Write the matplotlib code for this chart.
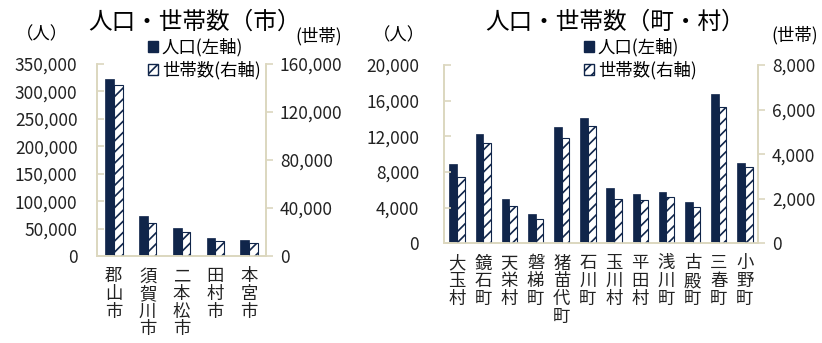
import numpy as np
import matplotlib.pyplot as plt
from matplotlib.patches import Patch
from matplotlib.ticker import FuncFormatter

plt.rcParams['font.family'] = ['Noto Sans CJK JP', 'DejaVu Sans']
plt.rcParams['hatch.linewidth'] = 1.2

# 市
city_names = ["郡山市", "須賀川市", "二本松市", "田村市", "本宮市"]
city_pop = [323000, 72900, 51600, 33400, 29700]
city_hh = [142200, 27200, 19700, 12200, 10600]

# 町・村
town_names = ["大玉村", "鏡石町", "天栄村", "磐梯町", "猪苗代町", "石川町",
              "玉川村", "平田村", "浅川町", "古殿町", "三春町", "小野町"]
town_pop = [8900, 12260, 5000, 3250, 13050, 14090,
            6170, 5560, 5790, 4600, 16710, 9040]
town_hh = [2990, 4490, 1670, 1090, 4710, 5260,
           1970, 1930, 2060, 1610, 6100, 3410]

NAVY = '#10254a'
AXIS_COL = '#dcd7bf'
FS = 12.5

comma = FuncFormatter(lambda v, p: f"{int(v):,}")


def draw_panel(fig, rect, names, pop, hh, lmax, lstep, rmax, rstep, width, lpad):
    ax = fig.add_axes(rect)
    ax2 = ax.twinx()
    x = np.arange(len(names))
    ax.bar(x - width / 2, pop, width, color=NAVY, edgecolor=NAVY, linewidth=0.5)
    ax2.bar(x + width / 2, hh, width, color='white', edgecolor=NAVY,
            hatch='///', linewidth=0.8)
    ax.set_xlim(-0.5, len(names) - 0.5)
    ax.set_ylim(0, lmax)
    ax2.set_ylim(0, rmax)
    ax.set_yticks(np.arange(0, lmax + 1, lstep))
    ax2.set_yticks(np.arange(0, rmax + 1, rstep))
    ax.yaxis.set_major_formatter(comma)
    ax2.yaxis.set_major_formatter(comma)
    ax.set_xticks(x)
    ax.set_xticklabels(['\n'.join(n) for n in names], fontsize=FS,
                       linespacing=0.98, va='top')
    for a in (ax, ax2):
        a.spines['top'].set_visible(False)
        for side in ('left', 'right', 'bottom'):
            a.spines[side].set_color(AXIS_COL)
            a.spines[side].set_linewidth(1.2)
    # ticks on both value axes point to the right
    ax.tick_params(axis='y', direction='in', colors=AXIS_COL, labelcolor='#222222',
                   labelsize=FS, length=5, width=1.2, pad=lpad)
    ax2.tick_params(axis='y', direction='out', colors=AXIS_COL, labelcolor='#222222',
                    labelsize=FS, length=5, width=1.2, pad=5)
    ax.tick_params(axis='x', length=0, pad=8, labelcolor='#222222')
    ax.patch.set_visible(False)
    return ax, ax2


fig = plt.figure(figsize=(8.22, 3.43), dpi=100)

W, H = 822, 343


def rect(x0, x1, ytop, ybot):
    return [x0 / W, 1 - ybot / H, (x1 - x0) / W, (ybot - ytop) / H]


ax_c, ax_c2 = draw_panel(fig, rect(97, 266, 64, 256), city_names, city_pop, city_hh,
                         350000, 50000, 160000, 40000, 0.26, 14)
ax_t, ax_t2 = draw_panel(fig, rect(444, 758, 65, 243.3), town_names, town_pop, town_hh,
                         20000, 4000, 8000, 2000, 0.29, 18)

# titles and unit labels
fig.text(194 / W, 1 - 22 / H, "人口・世帯数（市）", fontsize=17, ha='center', va='center')
fig.text(615 / W, 1 - 22 / H, "人口・世帯数（町・村）", fontsize=17, ha='center', va='center')
fig.text(42 / W, 1 - 34 / H, "（人）", fontsize=FS, ha='center', va='center')
fig.text(319 / W, 1 - 36 / H, "(世帯)", fontsize=FS, ha='center', va='center')
fig.text(399 / W, 1 - 35 / H, "（人）", fontsize=FS, ha='center', va='center')
fig.text(795 / W, 1 - 35 / H, "(世帯)", fontsize=FS, ha='center', va='center')

handles = [Patch(facecolor=NAVY, edgecolor=NAVY, label="人口(左軸)"),
           Patch(facecolor='white', edgecolor=NAVY, hatch='///', label="世帯数(右軸)")]
for x0 in (148, 584):
    fig.legend(handles=handles, loc='upper left', bbox_to_anchor=(x0 / W, 1 - 38 / H),
               frameon=False, fontsize=12.5, handlelength=0.6, handleheight=0.6,
               handletextpad=0.2, labelspacing=0.25, borderpad=0, borderaxespad=0)

fig.savefig("out.png", dpi=100)
